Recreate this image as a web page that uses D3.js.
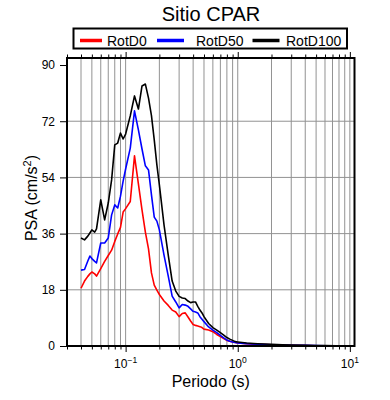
<html lang="en">
<head>
  <title>Sitio CPAR</title>
  <meta charset="utf-8">
  <script src="https://d3js.org/d3.v7.min.js"></script>
  <style>
    body { margin: 0; background: white; }
    svg { font-family: 'Liberation Sans', Arial, Helvetica, sans-serif; }
  </style>
</head>

<body>
  <svg id="chart" width="390" height="400"></svg>
</body>

<script>

// periodos (s) y PSA (cm/s2)
var periods = [0.040, 0.043, 0.046, 0.048, 0.050, 0.053, 0.055, 0.060, 0.065, 0.070,
               0.075, 0.080, 0.085, 0.090, 0.095, 0.100, 0.110, 0.120, 0.130, 0.140,
               0.150, 0.160, 0.170, 0.180, 0.190, 0.200, 0.22, 0.24, 0.26, 0.28,
               0.30, 0.32, 0.34, 0.36, 0.38, 0.40, 0.42, 0.44, 0.46, 0.48,
               0.50, 0.55, 0.60, 0.65, 0.70, 0.75, 0.80, 0.85, 0.90, 0.95,
               1.0, 1.2, 1.5, 2.0, 2.5, 3.0, 4.0, 5.0, 6.0, 7.5, 10.0];

var rotd0 = [18.5, 20.8, 22.3, 23.1, 23.7, 23.1, 22.4, 24.8, 27.1, 29.0,
             30.7, 33.5, 35.9, 38.0, 42.9, 44.0, 46.3, 60.9, 51.9, 43.6,
             36.5, 31.1, 23.4, 19.5, 17.9, 16.5, 14.4, 13.0, 11.5, 10.9,
             9.4, 10.4, 10.6, 9.3, 8.0, 6.9, 6.6, 6.4, 6.2, 5.9,
             5.4, 5.1, 4.6, 3.7, 3.0, 2.4, 1.8, 1.5, 1.3, 1.1,
             0.96, 0.70, 0.51, 0.35, 0.26, 0.19, 0.13, 0.10, 0.08, 0.05, 0.03];

var rotd50 = [24.3, 24.5, 27.2, 28.8, 28.0, 27.1, 26.6, 33.0, 33.0, 34.6,
              42.0, 45.2, 44.2, 48.0, 52.8, 56.7, 63.4, 75.3, 69.2, 63.1,
              57.7, 56.4, 48.4, 41.3, 40.0, 37.2, 29.1, 22.4, 16.0, 14.1,
              12.2, 13.3, 13.1, 12.7, 11.9, 11.1, 10.9, 10.6, 9.4, 8.6,
              7.8, 6.1, 5.1, 4.3, 3.4, 2.6, 1.9, 1.5, 1.3, 1.1,
              0.96, 0.77, 0.58, 0.42, 0.32, 0.26, 0.19, 0.13, 0.10, 0.07, 0.05];

var rotd100 = [34.6, 34.0, 35.2, 36.2, 37.2, 36.5, 37.5, 46.8, 40.4, 45.8,
               53.2, 64.4, 65.0, 68.2, 66.3, 67.9, 73.7, 80.1, 75.9, 83.3,
               83.9, 79.4, 73.8, 66.0, 58.0, 51.6, 38.8, 29.1, 20.8, 17.6,
               15.9, 15.4, 15.2, 14.4, 13.9, 14.1, 14.1, 12.7, 11.5, 10.6,
               9.4, 7.2, 5.9, 5.1, 4.3, 3.5, 2.7, 2.2, 1.8, 1.4,
               1.3, 0.96, 0.74, 0.55, 0.42, 0.32, 0.22, 0.16, 0.12, 0.09, 0.06];

var series_names = ['RotD0', 'RotD50', 'RotD100'];
var series_colors = ['#ff0000', '#0000ff', '#000000'];
var series_values = [rotd0, rotd50, rotd100];

var y_ticks = [0, 18, 36, 54, 72, 90];
var y_grid = [18, 36, 54, 72];
var x_major = [0.1, 1, 10];
var x_major_exp = ['\u22121', '0', '1'];

var title_text = 'Sitio CPAR';
var x_label = 'Periodo (s)';

/*******************************************************************************/

var svg = d3.select('#chart');
var p_left = 67, p_right = 354.5, p_top = 58, p_bottom = 346;

var xScale = d3.scaleLog().domain([0.03, 11]).range([p_left, p_right]);
var yScale = d3.scaleLinear().domain([0, 92.25]).range([p_bottom, p_top]);

var x_minor = xScale.ticks().filter(function(d){ return d >= 0.03 && d <= 11; });

// grid
var grid = svg.append('g');
grid.selectAll('.vgrid').data(x_minor).enter().append('line')
  .attr('x1', function(d){ return xScale(d); }).attr('x2', function(d){ return xScale(d); })
  .attr('y1', p_top).attr('y2', p_bottom)
  .style('stroke', '#929292').style('stroke-width', 1);
grid.selectAll('.hgrid').data(y_grid).enter().append('line')
  .attr('x1', p_left).attr('x2', p_right)
  .attr('y1', function(d){ return yScale(d); }).attr('y2', function(d){ return yScale(d); })
  .style('stroke', '#929292').style('stroke-width', 1);

// curves
svg.append('clipPath').attr('id', 'clip').append('rect')
  .attr('x', p_left).attr('y', p_top).attr('width', p_right - p_left).attr('height', p_bottom - p_top);

var line = d3.line()
  .x(function(d){ return xScale(d[0]); })
  .y(function(d){ return yScale(d[1]); });

series_values.forEach(function(vals, i){
  svg.append('path')
    .datum(periods.map(function(p, j){ return [p, vals[j]]; }))
    .attr('d', line)
    .attr('clip-path', 'url(#clip)')
    .style('fill', 'none').style('stroke', series_colors[i])
    .style('stroke-width', 1.6).style('stroke-linejoin', 'round');
});

// axes ticks
function tickLen(d){ return x_major.indexOf(d) >= 0 ? 6 : 3.5; }

var bottomAxis = d3.axisBottom(xScale).tickValues(x_minor).tickFormat('').tickSizeOuter(0);
var gb = svg.append('g').attr('transform', 'translate(0,' + p_bottom + ')').call(bottomAxis);
gb.selectAll('.tick line').attr('y2', function(d){ return tickLen(d); });

var topAxis = d3.axisTop(xScale).tickValues(x_minor).tickFormat('').tickSizeOuter(0);
var gt = svg.append('g').attr('transform', 'translate(0,' + p_top + ')').call(topAxis);
gt.selectAll('.tick line').attr('y2', function(d){ return -tickLen(d); });

var leftAxis = d3.axisLeft(yScale).tickValues(y_ticks).tickSize(7).tickSizeOuter(0).tickPadding(5);
var gl = svg.append('g').attr('transform', 'translate(' + p_left + ',0)').call(leftAxis);
gl.attr('font-family', null).attr('font-size', null);
gl.selectAll('text').style('font-size', '12px').style('fill', '#000');

svg.selectAll('.domain').remove();
svg.selectAll('.tick line').style('stroke', '#000').style('stroke-width', 1);

// x tick labels 10^n
x_major.forEach(function(v, i){
  var t = svg.append('text').attr('x', xScale(v)).attr('y', 368)
    .attr('text-anchor', 'middle').style('font-size', '12px');
  t.append('tspan').text('10');
  t.append('tspan').attr('dy', -5).style('font-size', '8.5px').text(x_major_exp[i]);
});

// frame
svg.append('rect').attr('x', p_left).attr('y', p_top).attr('width', p_right - p_left).attr('height', p_bottom - p_top)
  .style('fill', 'none').style('stroke', '#000').style('stroke-width', 2);

// labels
svg.append('text').attr('x', (p_left + p_right) / 2).attr('y', 387)
  .attr('text-anchor', 'middle').style('font-size', '16px').text(x_label);

var yl = svg.append('text').attr('transform', 'translate(37,' + 198 + ') rotate(-90)')
  .attr('text-anchor', 'middle').style('font-size', '16px');
yl.append('tspan').text('PSA (cm/s');
yl.append('tspan').attr('dy', -6).style('font-size', '11px').text('2');
yl.append('tspan').attr('dy', 6).text(')');

svg.append('text').attr('x', 211).attr('y', 21)
  .attr('text-anchor', 'middle').style('font-size', '20px').text(title_text);

// legend
var legend = svg.append('g');
legend.append('rect').attr('x', 73.5).attr('y', 28.5).attr('width', 273.5).attr('height', 20)
  .style('fill', 'white').style('stroke', '#000').style('stroke-width', 2);
var leg_x = [80, 157, 252.5];
var leg_text_x = [107, 196, 286];
series_names.forEach(function(name, i){
  legend.append('line').attr('x1', leg_x[i]).attr('x2', leg_x[i] + 22 + (i > 0 ? 5 : 0))
    .attr('y1', 40.5).attr('y2', 40.5)
    .style('stroke', series_colors[i]).style('stroke-width', 3.5);
  legend.append('text').attr('x', leg_text_x[i]).attr('y', 45.5)
    .style('font-size', '14px').text(name);
});

</script>
</html>
